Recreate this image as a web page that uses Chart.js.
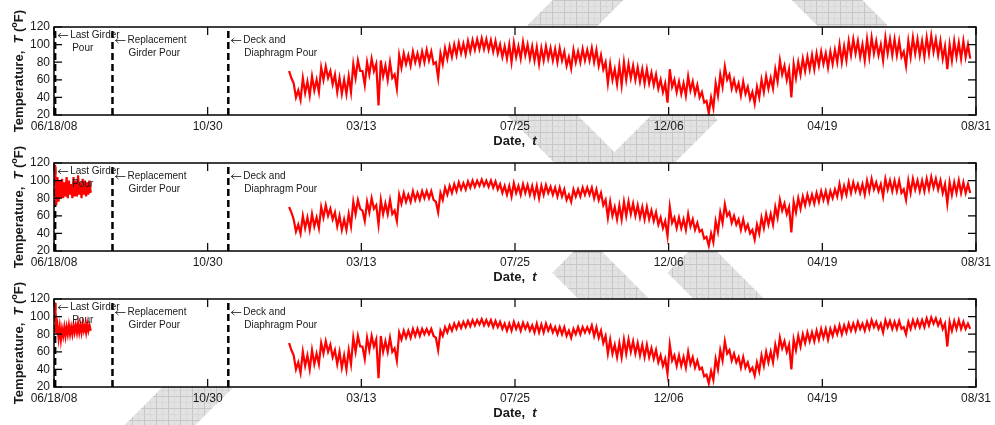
<!DOCTYPE html>
<html>
<head>
<meta charset="utf-8">
<script src="https://cdn.jsdelivr.net/npm/chart.js@4.4.1/dist/chart.umd.min.js"></script>
<style>
  html, body { margin: 0; padding: 0; background: #fff; }
  #wrap { position: relative; width: 995px; height: 425px; overflow: hidden; }
  #mark { position: absolute; left: 0; top: 0; }
  .panel { position: absolute; left: 0; width: 995px; height: 175px; }
</style>
</head>
<body>
<div id="wrap">
  <svg id="mark" width="995" height="425">
    <defs>
      <pattern id="hatch" width="12" height="12" patternUnits="userSpaceOnUse">
        <rect width="12" height="12" fill="#e2e2e2"/>
        <path d="M0 0.5H12M0.5 0V12" stroke="#c6c6c6" stroke-width="1"/>
        <path d="M0 6.5H12M6.5 0V12" stroke="#d3d3d3" stroke-width="0.6"/>
      </pattern>
    </defs>
    <g stroke="url(#hatch)" stroke-width="50">
      <line x1="545" y1="43" x2="615" y2="-27"/>
      <line x1="805" y1="-22" x2="870" y2="43"/>
      <line x1="525" y1="98" x2="610" y2="183"/>
      <line x1="700" y1="102" x2="630" y2="172"/>
      <line x1="570" y1="255" x2="640" y2="325"/>
      <line x1="685" y1="255" x2="755" y2="325"/>
      <line x1="130" y1="455" x2="235" y2="350"/>
    </g>
  </svg>
  <div class="panel" style="top:-13px"><canvas id="c0"></canvas></div>
  <div class="panel" style="top:123px"><canvas id="c1"></canvas></div>
  <div class="panel" style="top:259px"><canvas id="c2"></canvas></div>
</div>

<script>
// days counted from 06/18/08
const tickDays = [0, 134, 268, 402, 536, 670, 804];
const tickLabels = ['06/18/08', '10/30', '03/13', '07/25', '12/06', '04/19', '08/31'];
const yTicks = [20, 40, 60, 80, 100, 120];

const pourDays = [1, 51, 152];
const pourLine1 = ['Last Girder', 'Replacement', 'Deck and'];
const pourLine2 = ['Pour', 'Girder Pour', 'Diaphragm Pour'];

// daily high / low envelope, sampled every 4 days from day 205
const mainStart = 205, mainStep = 4;
// first month of the lower two gauges, every 2 days from day 1
const earlyStart = 1, earlyStep = 2;

const topHi = [
  70, 56, 48, 62, 58, 64,   60, 74, 75, 70, 66, 62,   60, 64, 78, 82, 70, 80,
  84, 78, 82, 76, 80, 66,   88, 90, 88, 92, 90, 92,   94, 92, 80, 90, 96, 98,
  100, 102, 101, 104, 105, 106, 107, 106, 105, 104, 100, 98, 100, 102, 98, 103, 100, 98,
  97, 96, 98, 96, 95, 96,   92, 86, 94, 92, 95, 94,   96, 94, 88, 80, 78, 72,
  76, 80, 78, 76, 74, 72,   72, 68, 66, 60, 56, 72,   60, 58, 56, 64, 58, 54,
  46, 36, 40, 56, 66, 75,   66, 60, 56, 58, 52, 46,   52, 60, 64, 62, 72, 82,
  76, 72, 78, 80, 84, 86,   88, 90, 92, 90, 92, 94,   100, 98, 104, 106, 104, 100,
  106, 108, 104, 100, 108, 106, 106, 104, 92, 104, 108, 106, 104, 108, 110, 106, 104, 98,
  100, 104, 102, 104, 100
];
const topLo = [
  62, 40, 37, 45, 42, 48,   46, 60, 62, 55, 46, 44,   44, 46, 62, 70, 54, 66,
  70, 31, 64, 60, 62, 50,   74, 78, 76, 80, 78, 80,   82, 78, 62, 78, 84, 86,
  88, 90, 89, 92, 94, 95,   95, 94, 92, 90, 86, 84,   80, 86, 84, 88, 84, 82,
  78, 82, 84, 82, 80, 82,   76, 73, 80, 80, 82, 82,   80, 76, 72, 56, 60, 55,
  54, 60, 62, 60, 58, 56,   56, 54, 50, 46, 34, 52,   46, 44, 42, 48, 44, 40,
  34, 22, 28, 42, 52, 60,   50, 48, 42, 44, 38, 33,   40, 46, 50, 50, 58, 66,
  60, 40, 62, 66, 70, 72,   72, 76, 78, 74, 78, 80,   80, 82, 88, 90, 86, 82,
  86, 90, 88, 82, 90, 88,   88, 86, 76, 86, 90, 88,   86, 90, 92, 88, 84, 72,
  82, 86, 84, 86, 84
];
const midHi = [
  70, 56, 50, 60, 58, 62,   58, 70, 72, 68, 64, 60,   56, 62, 76, 78, 66, 76,
  80, 72, 78, 74, 78, 66,   84, 86, 84, 88, 86, 88,   88, 88, 76, 86, 92, 94,
  96, 98, 97, 99, 100, 100, 101, 100, 100, 99, 96, 94, 94, 97, 94, 96, 95, 94,
  94, 94, 95, 93, 92, 92,   90, 84, 90, 90, 92, 92,   92, 90, 86, 78, 76, 70,
  72, 76, 76, 74, 72, 70,   70, 66, 64, 58, 54, 70,   58, 58, 56, 62, 56, 52,
  44, 36, 40, 54, 64, 73,   64, 60, 56, 56, 50, 44,   50, 58, 62, 62, 70, 78,
  74, 70, 76, 80, 82, 84,   84, 86, 88, 88, 88, 90,   96, 94, 98, 98, 96, 96,
  100, 102, 98, 96, 102, 100, 100, 100, 90, 100, 102, 100, 100, 102, 104, 102, 100, 96,
  98, 98, 100, 98, 96
];
const midLo = [
  64, 42, 40, 46, 44, 48,   46, 58, 60, 56, 48, 44,   44, 48, 62, 68, 54, 64,
  68, 50, 62, 62, 62, 54,   74, 76, 76, 78, 78, 80,   80, 78, 64, 78, 84, 86,
  88, 90, 90, 92, 93, 94,   94, 93, 92, 90, 86, 84,   82, 86, 84, 86, 84, 82,
  80, 84, 86, 84, 82, 82,   78, 76, 82, 82, 84, 84,   80, 78, 72, 58, 60, 56,
  56, 60, 62, 60, 58, 56,   56, 54, 50, 46, 37, 52,   46, 46, 44, 48, 44, 42,
  34, 26, 30, 42, 52, 60,   52, 50, 44, 44, 40, 33,   40, 46, 50, 50, 58, 66,
  62, 41, 64, 68, 72, 74,   74, 76, 78, 76, 80, 82,   82, 84, 86, 88, 86, 84,
  88, 90, 88, 82, 90, 88,   88, 86, 78, 86, 90, 88,   88, 90, 92, 90, 86, 74,
  84, 86, 86, 86, 86
];
const botHi = [
  70, 56, 48, 60, 56, 62,   58, 70, 72, 68, 62, 60,   56, 62, 76, 78, 66, 76,
  78, 74, 78, 72, 76, 64,   82, 84, 84, 86, 86, 86,   86, 86, 76, 84, 88, 90,
  92, 93, 94, 95, 96, 96,   97, 96, 96, 95, 94, 92,   92, 94, 92, 93, 92, 90,
  92, 91, 92, 90, 88, 88,   88, 84, 86, 88, 88, 88,   90, 88, 84, 78, 74, 68,
  70, 74, 74, 72, 70, 68,   68, 64, 62, 56, 52, 68,   56, 56, 54, 60, 54, 50,
  42, 34, 38, 52, 62, 72,   62, 58, 54, 54, 48, 42,   48, 56, 60, 60, 68, 76,
  72, 68, 74, 78, 80, 82,   82, 84, 86, 86, 86, 88,   90, 90, 92, 92, 94, 92,
  94, 96, 94, 92, 96, 95,   94, 95, 88, 94, 96, 96,   96, 98, 99, 98, 96, 92,
  94, 95, 96, 94, 92
];
const botLo = [
  62, 40, 36, 44, 40, 46,   46, 58, 60, 54, 46, 42,   40, 46, 60, 66, 52, 62,
  66, 30, 60, 60, 60, 50,   74, 76, 76, 78, 78, 80,   80, 78, 62, 78, 82, 84,
  86, 87, 88, 89, 90, 91,   90, 90, 88, 88, 86, 84,   84, 86, 84, 86, 84, 82,
  82, 82, 84, 82, 80, 80,   78, 76, 80, 80, 82, 82,   78, 76, 70, 58, 58, 54,
  54, 58, 60, 58, 56, 54,   54, 52, 48, 44, 35, 50,   44, 44, 42, 46, 42, 40,
  32, 24, 28, 40, 50, 58,   50, 48, 42, 42, 38, 33,   38, 44, 48, 48, 56, 64,
  60, 40, 62, 66, 70, 72,   72, 74, 76, 74, 78, 80,   80, 82, 84, 84, 86, 84,
  86, 88, 86, 82, 88, 86,   86, 86, 80, 86, 88, 88,   88, 90, 92, 90, 86, 66,
  84, 86, 86, 86, 86
];
const midEarlyHi = [118, 104, 100, 102, 98, 104, 100, 96, 104, 100, 106, 98, 102, 100, 98, 100];
const midEarlyLo = [72, 76, 80, 80, 82, 80, 84, 80, 82, 82, 84, 80, 84, 82, 84, 86];
const botEarlyHi = [116, 90, 88, 86, 88, 88, 90, 88, 90, 90, 92, 90, 92, 90, 92, 90];
const botEarlyLo = [80, 76, 74, 78, 78, 80, 80, 80, 82, 82, 82, 82, 84, 82, 84, 84];

const FONT = '"Liberation Sans", Arial, sans-serif';
const INK = '#1a1a1a';
const RED = '#ff0000';

// each sample: the high at its day, the low half a step later -> dense swing line
function swingPoints(hi, lo, start, step) {
  const pts = [];
  hi.forEach((h, i) => {
    pts.push({ x: start + i * step, y: h });
    pts.push({ x: start + i * step + step / 2, y: lo[i] });
  });
  return pts;
}

function swingDataset(hi, lo, start, step) {
  return { data: swingPoints(hi, lo, start, step), borderColor: RED, borderWidth: 2.2,
           borderJoinStyle: 'miter', pointRadius: 0, fill: false };
}

function pourDatasets() {
  return pourDays.map(d => ({
    data: [{ x: d, y: 20 }, { x: d, y: 120 }],
    borderColor: '#000',
    borderWidth: 2.5,
    borderDash: [7, 4],
    pointRadius: 0,
    fill: false
  }));
}

function drawRuns(ctx, x, y, runs, align) {
  let total = 0;
  runs.forEach(r => { ctx.font = r.font; total += ctx.measureText(r.text).width; });
  let cx = align === 'center' ? x - total / 2 : x;
  runs.forEach(r => {
    ctx.font = r.font;
    ctx.fillText(r.text, cx, y + (r.dy || 0));
    cx += ctx.measureText(r.text).width;
  });
}

const framePlugin = {
  id: 'frame',
  beforeDraw(chart) {
    const a = chart.chartArea, ctx = chart.ctx;
    ctx.save();
    ctx.fillStyle = '#fff';
    ctx.fillRect(a.left, a.top, a.right - a.left, a.bottom - a.top);
    ctx.restore();
  },
  afterDraw(chart) {
    const a = chart.chartArea, ctx = chart.ctx;
    const xs = chart.scales.x, ys = chart.scales.y;
    ctx.save();

    // box
    ctx.strokeStyle = '#000';
    ctx.lineWidth = 1.5;
    ctx.strokeRect(a.left, a.top, a.right - a.left, a.bottom - a.top);

    // inward ticks on all four sides
    ctx.lineWidth = 1.2;
    ctx.beginPath();
    tickDays.forEach(d => {
      const px = xs.getPixelForValue(d);
      ctx.moveTo(px, a.bottom); ctx.lineTo(px, a.bottom - 8);
      ctx.moveTo(px, a.top); ctx.lineTo(px, a.top + 8);
    });
    yTicks.forEach(v => {
      const py = ys.getPixelForValue(v);
      ctx.moveTo(a.left, py); ctx.lineTo(a.left + 8, py);
      ctx.moveTo(a.right, py); ctx.lineTo(a.right - 8, py);
    });
    ctx.stroke();

    // pour notes with small left arrows
    ctx.fillStyle = INK;
    ctx.strokeStyle = INK;
    ctx.lineWidth = 0.8;
    ctx.textBaseline = 'middle';
    ctx.textAlign = 'left';
    ctx.font = '10px ' + FONT;
    pourDays.forEach((d, i) => {
      const px = xs.getPixelForValue(d);
      const y1 = Math.round(a.top + (i === 0 ? 8 : 13)) + 0.5;
      ctx.beginPath();
      ctx.moveTo(px + 3, y1); ctx.lineTo(px + 13, y1);
      ctx.moveTo(px + 6, y1 - 2.5); ctx.lineTo(px + 3, y1); ctx.lineTo(px + 6, y1 + 2.5);
      ctx.stroke();
      ctx.fillText(pourLine1[i], px + 15, y1);
      ctx.fillText(pourLine2[i], px + (i === 0 ? 17 : 16), y1 + 13);
    });

    // axis titles
    const bold = 'bold 13px ' + FONT, boldIt = 'italic bold 13px ' + FONT;
    drawRuns(ctx, (a.left + a.right) / 2, a.bottom + 26,
      [{ text: 'Date,  ', font: bold }, { text: 't', font: boldIt }], 'center');

    ctx.translate(19, (a.top + a.bottom) / 2);
    ctx.rotate(-Math.PI / 2);
    drawRuns(ctx, 0, 0, [
      { text: 'Temperature,  ', font: bold },
      { text: 'T', font: boldIt },
      { text: ' (', font: bold },
      { text: 'o', font: 'bold 9px ' + FONT, dy: -4 },
      { text: 'F)', font: bold }
    ], 'center');
    ctx.restore();
  }
};

function makePanel(id, hi, lo, earlyHi, earlyLo) {
  const datasets = [];
  if (earlyHi) datasets.push(swingDataset(earlyHi, earlyLo, earlyStart, earlyStep));
  datasets.push(swingDataset(hi, lo, mainStart, mainStep));
  pourDatasets().forEach(ds => datasets.push(ds));

  new Chart(document.getElementById(id).getContext('2d'), {
    type: 'line',
    data: { datasets: datasets },
    options: {
      responsive: true,
      maintainAspectRatio: false,
      animation: false,
      events: [],
      layout: { padding: { top: 40, bottom: 7, left: 0, right: 18 } },
      plugins: { legend: { display: false }, tooltip: { enabled: false } },
      scales: {
        x: {
          type: 'linear',
          min: 0,
          max: 804,
          afterBuildTicks: s => { s.ticks = tickDays.map(v => ({ value: v })); },
          afterFit: s => { s.height = 40; },
          border: { display: false },
          grid: { display: false, drawTicks: false },
          ticks: {
            autoSkip: false,
            maxRotation: 0,
            padding: 4,
            color: INK,
            font: { family: FONT, size: 12 },
            callback: v => tickLabels[tickDays.indexOf(v)]
          }
        },
        y: {
          min: 20,
          max: 120,
          afterBuildTicks: s => { s.ticks = yTicks.map(v => ({ value: v })); },
          afterFit: s => { s.width = 54; },
          border: { display: false },
          grid: { display: false, drawTicks: false },
          ticks: {
            padding: 4,
            color: INK,
            font: { family: FONT, size: 12 }
          }
        }
      }
    },
    plugins: [framePlugin]
  });
}

makePanel('c0', topHi, topLo, null, null);
makePanel('c1', midHi, midLo, midEarlyHi, midEarlyLo);
makePanel('c2', botHi, botLo, botEarlyHi, botEarlyLo);
</script>
</body>
</html>
